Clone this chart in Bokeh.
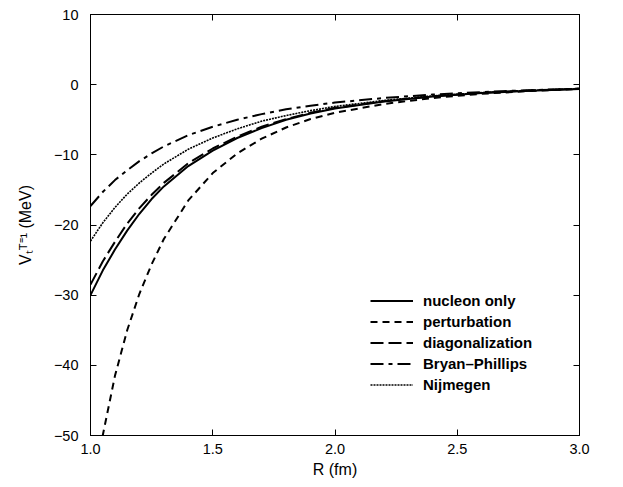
from bokeh.plotting import figure
from bokeh.models import LinearAxis, Legend, LegendItem, FixedTicker, Range1d
from bokeh.embed import file_html
from bokeh.resources import INLINE

# ---- data ----
R = [1.0, 1.05, 1.1, 1.15, 1.2, 1.25, 1.3, 1.4, 1.5, 1.6, 1.7, 1.8, 1.9, 2.0, 2.2, 2.4, 2.6, 2.8, 3.0]
nucleon_only = [-30.0, -26.5, -23.5, -20.8, -18.4, -16.3, -14.5, -11.6, -9.4, -7.6, -6.2, -5.0, -4.1, -3.4, -2.4, -1.7, -1.2, -0.85, -0.6]
perturbation = [-62.0, -50.0, -41.5, -35.0, -29.8, -25.6, -22.0, -16.5, -12.6, -9.8, -7.7, -6.1, -4.9, -4.0, -2.75, -1.9, -1.3, -0.9, -0.62]
diagonalization = [-28.5, -25.2, -22.4, -19.8, -17.6, -15.7, -14.0, -11.2, -9.1, -7.4, -6.0, -4.9, -4.0, -3.3, -2.35, -1.65, -1.15, -0.82, -0.58]
bryan_phillips = [-17.3, -15.3, -13.6, -12.2, -10.9, -9.8, -8.8, -7.2, -6.0, -5.0, -4.2, -3.5, -3.0, -2.55, -1.9, -1.4, -1.05, -0.78, -0.56]
nijmegen = [-22.3, -19.7, -17.5, -15.6, -14.0, -12.6, -11.3, -9.2, -7.6, -6.3, -5.2, -4.4, -3.7, -3.1, -2.25, -1.6, -1.15, -0.82, -0.58]

x_ticks = [1.0, 1.5, 2.0, 2.5, 3.0]
x_tick_labels = ["1.0", "1.5", "2.0", "2.5", "3.0"]
y_ticks = [-50, -40, -30, -20, -10, 0, 10]
y_tick_labels = ["\u221250", "\u221240", "\u221230", "\u221220", "\u221210", "0", "10"]
y_label = "V\u209c\u1d40\u207c\u00b9 (MeV)"
x_label = "R (fm)"

FONT = "Liberation Sans"

p = figure(width=608, height=484, output_backend="svg", toolbar_location=None,
           x_range=Range1d(1.0, 3.0), y_range=Range1d(-50, 10),
           min_border_left=90, min_border_right=29, min_border_top=14, min_border_bottom=49,
           x_axis_label=x_label, y_axis_label=y_label)
p.background_fill_color = "white"
p.border_fill_color = "white"
p.grid.visible = False
p.outline_line_color = "black"
p.outline_line_width = 1

def style_axis(ax, ticks, overrides, show_labels=True):
    ax.ticker = FixedTicker(ticks=ticks)
    ax.major_label_overrides = overrides
    ax.major_tick_in = 6
    ax.major_tick_out = 0
    ax.minor_tick_in = 0
    ax.minor_tick_out = 0
    ax.axis_line_color = "black"
    ax.major_tick_line_color = "black"
    ax.major_label_text_font = FONT
    ax.major_label_text_font_size = "14.5px"
    ax.major_label_text_color = "black"
    ax.axis_label_text_font = FONT
    ax.axis_label_text_font_style = "normal"
    ax.axis_label_text_font_size = "16px"
    ax.axis_label_text_color = "black"
    if not show_labels:
        ax.major_label_text_alpha = 0
        ax.major_label_text_font_size = "1px"
        ax.major_label_standoff = 0

xo = {t: l for t, l in zip(x_ticks, x_tick_labels)}
yo = {t: l for t, l in zip(y_ticks, y_tick_labels)}
style_axis(p.xaxis[0], x_ticks, xo)
style_axis(p.yaxis[0], y_ticks, yo)
p.xaxis[0].major_label_standoff = 8
p.yaxis[0].major_label_standoff = 12
p.xaxis[0].axis_label_standoff = 4
p.yaxis[0].axis_label_standoff = 17

top = LinearAxis()
style_axis(top, x_ticks, xo, show_labels=False)
p.add_layout(top, "above")
right = LinearAxis()
style_axis(right, y_ticks, yo, show_labels=False)
p.add_layout(right, "right")

r1 = p.line(R, nucleon_only, line_color="black", line_width=2)
r2 = p.line(R, perturbation, line_color="black", line_width=2, line_dash="7 5")
r3 = p.line(R, diagonalization, line_color="black", line_width=2, line_dash="13 5")
r4 = p.line(R, bryan_phillips, line_color="black", line_width=2, line_dash="13 5 4 5")
r5 = p.line(R, nijmegen, line_color="black", line_width=1.6, line_dash="2 1")

legend = Legend(items=[
    LegendItem(label="nucleon only", renderers=[r1]),
    LegendItem(label="perturbation", renderers=[r2]),
    LegendItem(label="diagonalization", renderers=[r3]),
    LegendItem(label="Bryan\u2013Phillips", renderers=[r4]),
    LegendItem(label="Nijmegen", renderers=[r5]),
], location=(280, 40))
legend.border_line_alpha = 0
legend.background_fill_alpha = 0
legend.padding = 0
legend.margin = 0
legend.spacing = 0
legend.glyph_width = 43
legend.glyph_height = 21
legend.label_height = 21
legend.label_standoff = 10
legend.label_text_font = FONT
legend.label_text_font_style = "bold"
legend.label_text_font_size = "15px"
legend.label_text_color = "black"
p.add_layout(legend, "center")

open("out.html", "w").write(file_html(p, INLINE))
